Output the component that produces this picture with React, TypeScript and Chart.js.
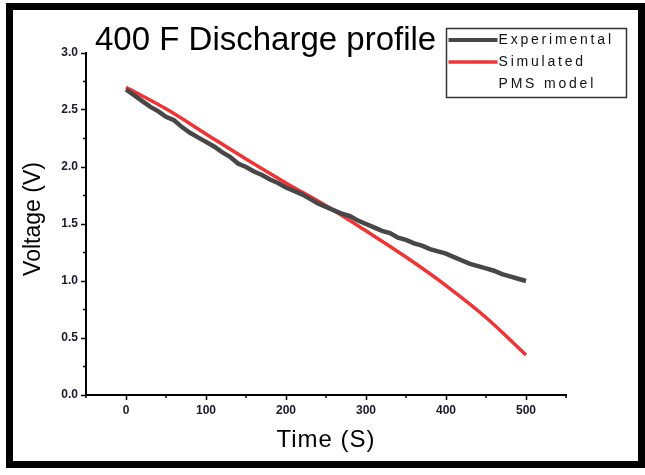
import React, { useEffect, useRef } from "react";
import { Chart, registerables } from "chart.js";

Chart.register(...registerables);

const titleText = "400 F Discharge profile";
const xTitle = "Time (S)";
const yTitle = "Voltage (V)";
const legendLabels = ["Experimental", "Simulated", "PMS model"];

const xTicks = [0, 100, 200, 300, 400, 500];
const xMinorTicks = [-50, 50, 150, 250, 350, 450, 550];
const yTicks = [0, 0.5, 1.0, 1.5, 2.0, 2.5, 3.0];
const yMinorTicks = [0.25, 0.75, 1.25, 1.75, 2.25, 2.75];

const expTime = [
  0, 10, 20, 30, 40, 50, 60, 70, 80, 90, 100, 110, 120, 130, 140, 150, 160, 170, 180, 190, 200,
  210, 220, 230, 240, 250, 260, 270, 280, 290, 300, 310, 320, 330, 340, 350, 360, 370, 380, 390, 400,
  410, 420, 430, 440, 450, 460, 470, 480, 490, 500,
];
const expVoltage = [
  2.68, 2.63, 2.58, 2.53, 2.49, 2.44, 2.41, 2.35, 2.3, 2.26, 2.22, 2.18, 2.13, 2.09, 2.03, 2.0, 1.96,
  1.93, 1.89, 1.86, 1.82, 1.79, 1.76, 1.72, 1.68, 1.65, 1.62, 1.59, 1.57, 1.53, 1.5, 1.47, 1.44, 1.42,
  1.38, 1.36, 1.33, 1.31, 1.28, 1.26, 1.24, 1.21, 1.18, 1.15, 1.13, 1.11, 1.09, 1.06, 1.04, 1.02, 1.0,
];

const simTime = [0, 50, 100, 150, 200, 250, 300, 350, 400, 450, 500];
const simVoltage = [2.7, 2.51, 2.29, 2.07, 1.86, 1.66, 1.44, 1.21, 0.96, 0.68, 0.35];

const FONT = "'Liberation Sans', Arial, sans-serif";
const GRAY = "#474747";
const RED = "#ee3535";

const decorPlugin = {
  id: "decor",
  afterDraw(chart: any) {
    const { ctx, chartArea } = chart;
    const xs = chart.scales.x;
    const ys = chart.scales.y;
    ctx.save();
    // minor ticks
    ctx.strokeStyle = "#000";
    ctx.lineWidth = 1.5;
    ctx.beginPath();
    xMinorTicks.forEach((v) => {
      const px = xs.getPixelForValue(v);
      ctx.moveTo(px, chartArea.bottom);
      ctx.lineTo(px, chartArea.bottom + 3);
    });
    yMinorTicks.forEach((v) => {
      const py = ys.getPixelForValue(v);
      ctx.moveTo(chartArea.left, py);
      ctx.lineTo(chartArea.left - 3, py);
    });
    ctx.stroke();

    // title
    ctx.fillStyle = "#000";
    ctx.font = `33px ${FONT}`;
    ctx.textBaseline = "alphabetic";
    ctx.textAlign = "left";
    ctx.fillText(titleText, chartArea.left + 9, chartArea.top - 3);

    // axis titles
    ctx.textAlign = "center";
    ctx.textBaseline = "middle";
    ctx.font = `24px ${FONT}`;
    (ctx as any).letterSpacing = "1px";
    ctx.fillText(xTitle, (chartArea.left + chartArea.right) / 2, chartArea.bottom + 45);
    (ctx as any).letterSpacing = "0px";
    ctx.font = `23px ${FONT}`;
    ctx.save();
    ctx.translate(chartArea.left - 52, (chartArea.top + chartArea.bottom) / 2 - 5);
    ctx.rotate(-Math.PI / 2);
    ctx.fillText(yTitle, 0, 0);
    ctx.restore();

    // legend
    const lx = 446.5;
    const ly = 28.5;
    ctx.strokeStyle = "#333";
    ctx.lineWidth = 1.5;
    ctx.strokeRect(lx, ly, 180, 69);
    ctx.lineCap = "butt";
    ctx.strokeStyle = GRAY;
    ctx.lineWidth = 4;
    ctx.beginPath();
    ctx.moveTo(lx + 2, ly + 11.5);
    ctx.lineTo(lx + 51, ly + 11.5);
    ctx.stroke();
    ctx.strokeStyle = RED;
    ctx.lineWidth = 3.5;
    ctx.beginPath();
    ctx.moveTo(lx + 2, ly + 33.5);
    ctx.lineTo(lx + 51, ly + 33.5);
    ctx.stroke();
    ctx.fillStyle = "#111";
    ctx.font = `14px ${FONT}`;
    ctx.textAlign = "left";
    ctx.textBaseline = "middle";
    (ctx as any).letterSpacing = "2.8px";
    legendLabels.forEach((t, i) => {
      ctx.fillText(t, lx + 52, ly + 12 + i * 22);
    });
    ctx.restore();
  },
};

export default function App() {
  const canvasRef = useRef<HTMLCanvasElement | null>(null);
  useEffect(() => {
    if (!canvasRef.current) return;
    const chart = new Chart(canvasRef.current, {
      type: "line",
      data: {
        datasets: [
          {
            label: legendLabels[0],
            data: expTime.map((t, i) => ({ x: t, y: expVoltage[i] })),
            borderColor: GRAY,
            borderWidth: 4.5,
            pointRadius: 0,
            tension: 0,
          },
          {
            label: legendLabels[1],
            data: simTime.map((t, i) => ({ x: t, y: simVoltage[i] })),
            borderColor: RED,
            borderWidth: 3.5,
            pointRadius: 0,
            tension: 0.35,
          },
        ],
      },
      options: {
        responsive: false,
        animation: false,
        layout: { padding: { left: 26, top: 53, right: 79, bottom: 30 } },
        plugins: { legend: { display: false }, title: { display: false }, tooltip: { enabled: false } },
        scales: {
          x: {
            type: "linear",
            min: -50,
            max: 550,
            afterBuildTicks: (s: any) => {
              s.ticks = xTicks.map((v) => ({ value: v }));
            },
            afterFit: (s: any) => {
              s.height = 50;
            },
            grid: { drawOnChartArea: false, tickLength: 5, tickColor: "#000", tickWidth: 1.5 },
            border: { color: "#000", width: 2 },
            ticks: { color: "#1a1a2a", font: { family: FONT, size: 12, weight: "bold" }, padding: 3, maxRotation: 0 },
          },
          y: {
            type: "linear",
            min: 0,
            max: 3,
            afterBuildTicks: (s: any) => {
              s.ticks = yTicks.map((v) => ({ value: v }));
            },
            afterFit: (s: any) => {
              s.width = 60;
            },
            grid: { drawOnChartArea: false, tickLength: 5, tickColor: "#000", tickWidth: 1.5 },
            border: { color: "#000", width: 2 },
            ticks: {
              color: "#1a1a2a",
              font: { family: FONT, size: 12, weight: "bold" },
              padding: 3,
              callback: (v: any) => Number(v).toFixed(1),
            },
          },
        },
      },
      plugins: [decorPlugin],
    });
    return () => chart.destroy();
  }, []);

  return (
    <div style={{ position: "fixed", left: 0, top: 0, width: 645, height: 475, background: "#fff" }}>
      <canvas ref={canvasRef} width={645} height={475} style={{ position: "absolute", left: 0, top: 0 }} />
      <div
        style={{
          position: "absolute",
          left: 6,
          top: 3,
          width: 639,
          height: 465,
          border: "7px solid #000",
          boxSizing: "border-box",
          pointerEvents: "none",
        }}
      />
    </div>
  );
}
